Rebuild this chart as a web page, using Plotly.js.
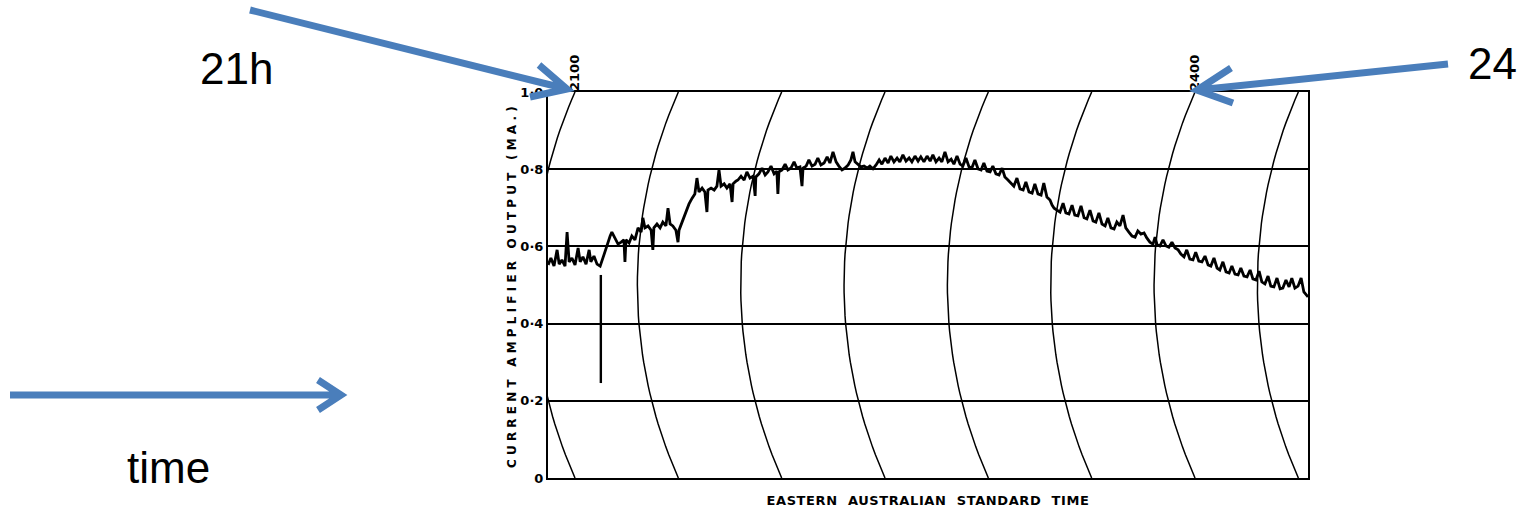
<!DOCTYPE html>
<html>
<head>
<meta charset="utf-8">
<script src="https://cdn.plot.ly/plotly-3.0.1.min.js"></script>
<style>
html,body{margin:0;padding:0;background:#fff;}
#chart{width:1520px;height:515px;}
.ytitle{letter-spacing:4.2px;}
.xtitle{letter-spacing:0.6px;}
</style>
</head>
<body>
<div id="chart"></div>
<script>
// ---- data (minutes after 2100 EAST, amplifier output mA) ----
const minutes = [
-7.8,-7.0,-6.1,-5.2,-4.6,-3.8,-2.9,-2.3,-1.7,-0.9,0,0.9,1.5,2.3,3.2,4.1,4.6,5.5,6.4,7.3,
8.4,9.3,10.2,10.7,11.6,12.5,13.4,14.2,14.5,14.8,15.7,16.5,17.4,18.3,19.2,19.7,20.3,21.2,22.1,22.6,
22.9,23.8,24.7,25.5,26.4,27.0,27.6,28.4,29.3,29.9,30.2,31.1,32.2,33.1,34.0,34.8,35.4,36.0,36.9,37.7,
38.3,38.6,39.5,40.4,41.2,41.8,42.4,43.3,44.1,45.0,45.6,45.9,46.7,
47.3,48.2,49.1,49.9,50.8,51.7,52.3,52.5,53.4,54.3,55.2,56.0,56.9,57.8,58.6,58.9,59.2,60.1,61.0,61.8,
62.7,63.6,64.4,65.3,65.9,66.2,67.1,67.9,68.8,69.7,70.5,71.4,72.3,73.2,74.0,74.9,75.8,76.6,77.5,78.4,
79.3,80.1,80.7,81.3,82.2,83.0,83.9,84.8,85.6,86.5,87.4,88.3,89.1,90.0,90.9,91.7,92.6,93.5,94.3,95.2,
96.1,97.0,97.8,98.7,99.6,100.4,101.3,102.2,103.1,
103.9,104.8,105.7,106.5,107.4,108.3,109.2,110.0,110.9,111.8,112.6,113.5,114.4,115.2,116.1,117.0,117.9,118.7,119.6,120.5,
121.3,122.2,123.1,124.0,124.8,125.7,126.6,127.4,128.3,129.2,130.1,130.9,131.8,132.7,133.5,134.4,135.3,136.1,137.0,137.9,
138.5,139.1,139.9,140.8,141.7,142.5,143.4,144.3,145.1,146.0,146.9,147.8,148.6,149.5,150.4,151.2,152.1,153.0,153.9,154.7,
155.6,156.5,157.3,
158.2,159.1,159.9,160.8,161.7,162.6,163.4,164.3,165.2,166.0,166.9,167.8,168.4,169.0,169.8,170.7,171.6,172.4,173.3,174.2,
175.1,175.9,176.8,177.6,178.5,179.4,180.2,181.1,182.0,182.9,183.8,184.6,185.5,186.4,187.2,188.1,189.0,189.9,190.7,191.6,
192.5,193.3,194.2,195.1,196.0,196.8,197.7,198.6,199.4,200.3,201.2,202.0,202.9,203.8,204.7,205.5,206.4,207.3,208.1,209.0,
209.9,210.8,211.6,212.8
];
const output = [
0.552,0.570,0.549,0.591,0.554,0.565,0.549,0.637,0.560,0.570,0.552,0.596,0.560,0.573,0.554,0.591,0.560,0.575,0.554,0.549,
0.578,0.604,0.627,0.637,0.622,0.606,0.611,0.617,0.560,0.617,0.609,0.627,0.617,0.648,0.637,0.674,0.648,0.653,0.642,0.591,
0.648,0.658,0.648,0.663,0.653,0.699,0.658,0.653,0.642,0.611,0.642,0.663,0.689,0.710,0.725,0.736,0.777,0.741,0.751,0.741,
0.689,0.746,0.751,0.746,0.756,0.798,0.756,0.762,0.751,0.762,0.715,0.762,0.769,
0.772,0.782,0.772,0.793,0.777,0.782,0.731,0.780,0.788,0.803,0.785,0.793,0.808,0.788,0.795,0.736,0.793,0.798,0.813,0.798,
0.803,0.819,0.803,0.806,0.756,0.803,0.808,0.824,0.808,0.813,0.829,0.811,0.816,0.832,0.816,0.845,0.819,0.808,0.798,0.803,
0.811,0.824,0.845,0.819,0.811,0.806,0.808,0.803,0.808,0.801,0.811,0.824,0.813,0.829,0.816,0.834,0.819,0.829,0.819,0.837,
0.821,0.829,0.819,0.834,0.821,0.832,0.819,0.834,0.821,
0.837,0.819,0.829,0.819,0.845,0.819,0.826,0.813,0.834,0.813,0.808,0.829,0.806,0.803,0.824,0.801,0.798,0.816,0.795,0.793,
0.808,0.788,0.785,0.803,0.780,0.772,0.762,0.756,0.777,0.749,0.746,0.767,0.741,0.738,0.762,0.736,0.733,0.764,0.728,0.720,
0.707,0.699,0.694,0.689,0.712,0.687,0.684,0.707,0.681,0.679,0.705,0.674,0.671,0.694,0.666,0.663,0.687,0.658,0.653,0.674,
0.648,0.645,0.663,
0.653,0.681,0.648,0.637,0.627,0.624,0.640,0.632,0.635,0.622,0.611,0.606,0.624,0.604,0.601,0.617,0.601,0.598,0.611,0.596,
0.591,0.580,0.573,0.591,0.567,0.565,0.585,0.562,0.560,0.575,0.552,0.549,0.570,0.544,0.539,0.560,0.534,0.531,0.549,0.528,
0.526,0.544,0.523,0.521,0.539,0.516,0.513,0.536,0.508,0.503,0.523,0.497,0.495,0.518,0.490,0.492,0.513,0.495,0.518,0.492,
0.497,0.518,0.482,0.469
];
// isolated pen excursion just after 2100
const glitchMinutes = [7.5, 7.5];
const glitchOutput = [0.526, 0.246];

// chart furniture
const arcTopMinutes = [0, 30, 60, 90, 120, 150, 180, 210];
const yTickVals = [0, 0.2, 0.4, 0.6, 0.8, 1.0];
const yTickText = ['0', '0·2', '0·4', '0·6', '0·8', '1·0'];
const topTickVals = [0, 180];
const topTickText = ['2100', '2400'];
const xRange = [-7.84, 212.8];
const yRange = [0, 1];

// ---- geometry of the figure ----
const W = 1520, H = 515;
const M = {l: 548, r: 212, t: 92, b: 37};
const plotW = W - M.l - M.r, plotH = H - M.t - M.b;
const minPerPx = (xRange[1] - xRange[0]) / plotW;
const pxPerY = plotH / (yRange[1] - yRange[0]);
const arcR = 475; // recorder pen arc radius, px
const arcBulge = arcR - Math.sqrt(arcR * arcR - (plotH / 2) * (plotH / 2));

const traces = [];
// curvilinear time grid (arcs of the recorder pen)
arcTopMinutes.forEach(t => {
  const ax = [], ay = [];
  for (let i = 0; i <= 50; i++) {
    const y = i / 50;
    const dy = (y - 0.5) * pxPerY;
    const dx = (arcR - Math.sqrt(arcR * arcR - dy * dy)) - arcBulge;
    ax.push(t + dx * minPerPx);
    ay.push(y);
  }
  traces.push({x: ax, y: ay, mode: 'lines', line: {color: '#000', width: 1.5},
    hoverinfo: 'skip', showlegend: false});
});
traces.push({x: minutes, y: output, mode: 'lines', line: {color: '#000', width: 2.8},
  showlegend: false, name: 'output'});
traces.push({x: glitchMinutes, y: glitchOutput, mode: 'lines', line: {color: '#000', width: 2.4},
  showlegend: false});
// invisible trace to carry the top axis
traces.push({x: topTickVals, y: [1, 1], xaxis: 'x2', mode: 'markers',
  marker: {opacity: 0}, hoverinfo: 'skip', showlegend: false});

// pixel -> paper helpers for the overlaid slide annotations
const PX = px => (px - M.l) / plotW;
const PY = py => (H - M.b - py) / plotH;
function arrowPath(tail, tip, b1, b2) {
  return 'M' + PX(tail[0]) + ',' + PY(tail[1]) + 'L' + PX(tip[0]) + ',' + PY(tip[1]) +
         'M' + PX(b1[0]) + ',' + PY(b1[1]) + 'L' + PX(tip[0]) + ',' + PY(tip[1]) +
         'L' + PX(b2[0]) + ',' + PY(b2[1]);
}
const blue = '#4a7ebb';
const arrowShapes = [
  arrowPath([250, 10], [567, 89], [539, 65], [530, 97]),
  arrowPath([1448, 64], [1197, 90], [1231, 68], [1233, 103]),
  arrowPath([10, 395], [341, 395], [318, 380], [318, 410])
].map(p => ({type: 'path', xref: 'paper', yref: 'paper', path: p, layer: 'above',
  line: {color: blue, width: 7}}));

const bigFont = {family: 'Liberation Sans, Arial, sans-serif', size: 44, color: '#000'};
const labelTexts = ['21h', '24', 'time'];
const labelPos = [[236.5, 68.5], [1492.5, 64], [168.5, 467]];
const annotations = labelTexts.map((t, i) => ({
  text: t, xref: 'paper', yref: 'paper', x: PX(labelPos[i][0]), y: PY(labelPos[i][1]),
  xanchor: 'center', yanchor: 'middle', showarrow: false, font: bigFont
}));

const chartFont = {family: 'DejaVu Sans, sans-serif', color: '#000', weight: 'bold'};

const layout = {
  width: W, height: H,
  margin: M,
  paper_bgcolor: '#fff', plot_bgcolor: '#fff',
  showlegend: false,
  xaxis: {
    range: xRange, showgrid: false, zeroline: false, showticklabels: false, ticks: '',
    showline: true, mirror: true, linecolor: '#000', linewidth: 2,
    title: {text: 'EASTERN  AUSTRALIAN  STANDARD  TIME', standoff: 17,
      font: Object.assign({}, chartFont, {size: 13})}
  },
  xaxis2: {
    range: xRange, overlaying: 'x', side: 'top', anchor: 'y',
    tickvals: topTickVals, ticktext: topTickText, tickangle: -90,
    showgrid: false, zeroline: false, showline: false, ticks: '',
    tickfont: Object.assign({}, chartFont, {size: 13})
  },
  yaxis: {
    range: yRange, tickvals: yTickVals, ticktext: yTickText,
    showgrid: true, gridcolor: '#000', gridwidth: 2, zeroline: false,
    showline: true, mirror: true, linecolor: '#000', linewidth: 2, ticks: '',
    tickfont: Object.assign({}, chartFont, {size: 13}),
    title: {text: 'CURRENT AMPLIFIER OUTPUT (MA.)', standoff: 1,
      font: Object.assign({}, chartFont, {size: 12})}
  },
  shapes: arrowShapes,
  annotations: annotations
};

Plotly.newPlot('chart', traces, layout, {staticPlot: true, displayModeBar: false});
</script>
</body>
</html>
